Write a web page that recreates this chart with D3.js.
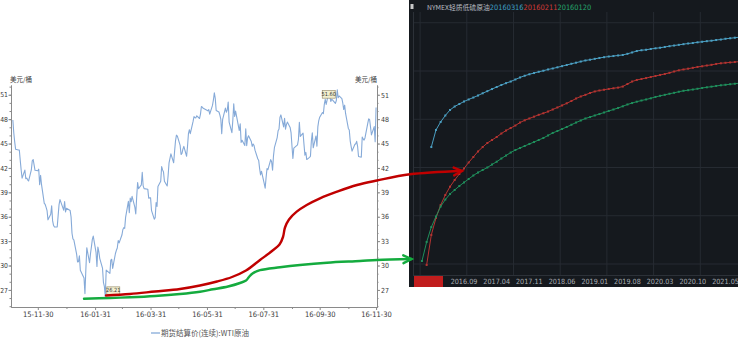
<!DOCTYPE html>
<html><head><meta charset="utf-8">
<script src="https://cdn.jsdelivr.net/npm/d3@7"></script>
<style>body{margin:0;background:#fff;overflow:hidden} svg{display:block}</style>
</head><body>
<svg id="c" width="738" height="342"></svg>
<script>
// ---------------- DATA ----------------
// Left chart: WTI continuous futures settlement price (USD/bbl)
const wti = [
["2015-11-03",47.90],["2015-11-04",46.32],["2015-11-05",45.20],["2015-11-06",44.29],["2015-11-09",44.21],["2015-11-10",44.21],["2015-11-11",42.93],["2015-11-12",41.75],["2015-11-13",40.74],["2015-11-16",41.74],["2015-11-17",40.67],["2015-11-18",40.75],["2015-11-19",40.54],["2015-11-20",40.39],["2015-11-23",41.75],["2015-11-24",42.87],["2015-11-25",43.04],["2015-11-27",41.71],["2015-11-30",41.65],
["2015-12-01",41.85],["2015-12-02",39.94],["2015-12-03",41.08],["2015-12-04",39.97],["2015-12-07",37.65],["2015-12-08",37.51],["2015-12-09",37.16],["2015-12-10",36.76],["2015-12-11",35.62],["2015-12-14",36.31],["2015-12-15",37.35],["2015-12-16",35.52],["2015-12-17",34.95],["2015-12-18",34.73],["2015-12-21",34.74],["2015-12-22",36.14],["2015-12-23",37.50],["2015-12-24",38.10],["2015-12-28",36.81],["2015-12-29",37.87],["2015-12-30",36.60],["2015-12-31",37.04],
["2016-01-04",36.76],["2016-01-05",35.97],["2016-01-06",33.97],["2016-01-07",33.27],["2016-01-08",33.16],["2016-01-11",31.41],["2016-01-12",30.44],["2016-01-13",30.48],["2016-01-14",31.20],["2016-01-15",29.42],["2016-01-19",28.46],["2016-01-20",26.55],["2016-01-21",29.53],["2016-01-22",32.19],["2016-01-25",30.34],["2016-01-26",31.45],["2016-01-27",32.30],["2016-01-28",33.22],["2016-01-29",33.62],
["2016-02-01",31.62],["2016-02-02",29.88],["2016-02-03",32.28],["2016-02-04",31.72],["2016-02-05",30.89],["2016-02-08",29.69],["2016-02-09",27.94],["2016-02-10",27.45],["2016-02-11",26.21],["2016-02-12",29.44],["2016-02-16",29.04],["2016-02-17",30.66],["2016-02-18",30.77],["2016-02-19",29.64],["2016-02-22",31.48],["2016-02-23",31.87],["2016-02-24",32.15],["2016-02-25",33.07],["2016-02-26",32.78],["2016-02-29",33.75],
["2016-03-01",34.40],["2016-03-02",34.66],["2016-03-03",34.57],["2016-03-04",35.92],["2016-03-07",37.90],["2016-03-08",36.50],["2016-03-09",38.29],["2016-03-10",37.84],["2016-03-11",38.50],["2016-03-14",37.18],["2016-03-15",36.34],["2016-03-16",38.46],["2016-03-17",40.20],["2016-03-18",39.44],["2016-03-21",39.91],["2016-03-22",41.45],["2016-03-23",39.79],["2016-03-24",39.46],["2016-03-28",39.39],["2016-03-29",38.28],["2016-03-30",38.32],["2016-03-31",38.34],
["2016-04-01",36.79],["2016-04-04",35.70],["2016-04-05",35.89],["2016-04-06",37.75],["2016-04-07",37.26],["2016-04-08",39.72],["2016-04-11",40.36],["2016-04-12",42.17],["2016-04-13",41.76],["2016-04-14",41.50],["2016-04-15",40.36],["2016-04-18",39.78],["2016-04-19",41.08],["2016-04-20",42.63],["2016-04-21",43.18],["2016-04-22",43.73],["2016-04-25",42.64],["2016-04-26",44.04],["2016-04-27",45.33],["2016-04-28",46.03],["2016-04-29",45.92],
["2016-05-02",44.78],["2016-05-03",43.65],["2016-05-04",43.78],["2016-05-05",44.32],["2016-05-06",44.66],["2016-05-09",43.44],["2016-05-10",44.66],["2016-05-11",46.23],["2016-05-12",46.70],["2016-05-13",46.21],["2016-05-16",47.72],["2016-05-17",48.31],["2016-05-18",48.19],["2016-05-19",48.16],["2016-05-20",48.41],["2016-05-23",48.08],["2016-05-24",48.62],["2016-05-25",49.56],["2016-05-26",49.48],["2016-05-27",49.33],["2016-05-31",49.10],
["2016-06-01",49.01],["2016-06-02",49.17],["2016-06-03",48.62],["2016-06-06",49.69],["2016-06-07",50.36],["2016-06-08",51.23],["2016-06-09",50.56],["2016-06-10",49.07],["2016-06-13",48.88],["2016-06-14",48.49],["2016-06-15",48.01],["2016-06-16",46.21],["2016-06-17",47.98],["2016-06-20",49.37],["2016-06-21",48.85],["2016-06-22",49.13],["2016-06-23",50.11],["2016-06-24",47.64],["2016-06-27",46.33],["2016-06-28",47.85],["2016-06-29",49.88],["2016-06-30",48.33],
["2016-07-01",48.99],["2016-07-05",46.60],["2016-07-06",47.43],["2016-07-07",45.14],["2016-07-08",45.41],["2016-07-11",44.76],["2016-07-12",46.80],["2016-07-13",44.75],["2016-07-14",45.68],["2016-07-15",45.95],["2016-07-18",45.24],["2016-07-19",44.65],["2016-07-20",44.94],["2016-07-21",44.75],["2016-07-22",44.19],["2016-07-25",43.13],["2016-07-26",42.92],["2016-07-27",41.92],["2016-07-28",41.14],["2016-07-29",41.60],
["2016-08-01",40.06],["2016-08-02",39.51],["2016-08-03",40.83],["2016-08-04",41.93],["2016-08-05",41.80],["2016-08-08",43.02],["2016-08-09",42.77],["2016-08-10",41.71],["2016-08-11",43.49],["2016-08-12",44.49],["2016-08-15",45.74],["2016-08-16",46.58],["2016-08-17",46.79],["2016-08-18",48.22],["2016-08-19",48.52],["2016-08-22",47.05],["2016-08-23",48.10],["2016-08-24",46.77],["2016-08-25",47.33],["2016-08-26",47.64],["2016-08-29",46.98],["2016-08-30",46.35],["2016-08-31",44.70],
["2016-09-01",43.16],["2016-09-02",44.44],["2016-09-06",44.83],["2016-09-07",45.50],["2016-09-08",47.62],["2016-09-09",45.88],["2016-09-12",46.29],["2016-09-13",44.90],["2016-09-14",43.58],["2016-09-15",43.91],["2016-09-16",43.03],["2016-09-19",43.30],["2016-09-20",43.44],["2016-09-21",45.34],["2016-09-22",46.32],["2016-09-23",44.48],["2016-09-26",45.93],["2016-09-27",44.67],["2016-09-28",47.05],["2016-09-29",47.83],["2016-09-30",48.24],
["2016-10-03",48.81],["2016-10-04",48.69],["2016-10-05",49.83],["2016-10-06",50.44],["2016-10-07",49.81],["2016-10-10",51.35],["2016-10-11",50.79],["2016-10-12",50.18],["2016-10-13",50.44],["2016-10-14",50.35],["2016-10-17",49.94],["2016-10-18",50.29],["2016-10-19",51.60],["2016-10-20",50.63],["2016-10-21",50.85],["2016-10-24",50.52],["2016-10-25",49.96],["2016-10-26",49.18],["2016-10-27",49.72],["2016-10-28",48.70],["2016-10-31",46.86],
["2016-11-01",46.67],["2016-11-02",45.34],["2016-11-03",44.66],["2016-11-04",44.07],["2016-11-07",44.89],["2016-11-08",44.98],["2016-11-09",45.27],["2016-11-10",44.66],["2016-11-11",43.41],["2016-11-14",43.32],["2016-11-15",45.81],["2016-11-16",45.57],["2016-11-17",45.42],["2016-11-18",45.69],["2016-11-21",47.49],["2016-11-22",48.03],["2016-11-23",47.96],["2016-11-25",46.06],["2016-11-28",47.08],["2016-11-29",45.23],["2016-11-30",49.44]
];
const leftXDomain = ["2015-11-01","2016-12-01"];
const leftYDomain = [24.9, 52.2];
const leftYTicks = [27,30,33,36,39,42,45,48,51];
const leftXTicks = ["2015-11-30","2016-01-31","2016-03-31","2016-05-31","2016-07-31","2016-09-30","2016-11-30"];
const leftXLabels = ["15-11-30","16-01-31","16-03-31","16-05-31","16-07-31","16-09-30","16-11-30"];
const leftXMinor = ["2015-12-31","2016-02-29","2016-04-30","2016-06-30","2016-08-31","2016-10-31"];
const unitLabel = "美元/桶";
const legendLabel = "期货结算价(连续):WTI原油";
const markedPoints = [["2016-02-11",26.21],["2016-10-19",51.60]];

// Right chart: NYMEX forward curves on three trade dates (one value per contract month)
const curveNames = ["20160316","20160211","20160120"];
const curveStartMonth = ["2016-02","2016-01","2015-12"];
const curve20160316 = [38.12,39.89,40.72,41.39,41.96,42.32,42.58,42.84,43.05,43.25,43.46,43.69,43.91,44.13,44.34,44.55,44.74,44.91,45.12,45.33,45.51,45.66,45.79,45.92,46.03,46.16,46.26,46.38,46.50,46.62,46.75,46.86,46.98,47.09,47.17,47.26,47.35,47.43,47.50,47.55,47.61,47.66,47.78,47.92,48.07,48.15,48.20,48.28,48.35,48.41,48.49,48.57,48.64,48.71,48.78,48.85,48.90,48.97,49.03,49.09,49.14,49.21,49.26,49.34,49.39,49.45,49.50];
const curve20160211 = [25.90,29.01,30.77,32.11,33.15,34.01,34.70,35.33,35.90,36.52,37.09,37.66,38.12,38.54,38.85,39.16,39.52,39.83,40.09,40.35,40.66,40.89,41.08,41.27,41.46,41.62,41.80,42.01,42.22,42.43,42.65,42.89,43.15,43.36,43.53,43.72,43.88,43.98,44.06,44.14,44.21,44.28,44.39,44.65,44.91,45.07,45.17,45.27,45.38,45.48,45.59,45.69,45.81,45.95,46.07,46.16,46.24,46.33,46.42,46.49,46.57,46.64,46.73,46.80,46.85,46.89,46.93,46.97];
const curve20160120 = [26.31,28.28,29.83,30.92,31.96,32.68,33.25,33.67,34.08,34.45,34.81,35.17,35.48,35.74,36.00,36.31,36.60,36.93,37.24,37.55,37.81,38.02,38.23,38.44,38.64,38.85,39.06,39.32,39.58,39.78,39.99,40.20,40.43,40.66,40.87,41.08,41.23,41.39,41.54,41.70,41.86,42.01,42.17,42.34,42.53,42.68,42.82,42.94,43.05,43.17,43.31,43.43,43.53,43.64,43.74,43.85,43.95,44.01,44.08,44.16,44.24,44.31,44.38,44.45,44.52,44.57,44.63,44.68,44.74];
const rightXLabels = ["2016.09","2017.04","2017.11","2018.06","2019.01","2019.08","2020.03","2020.10","2021.05"];
const rightYGrid = [26,31,36,41,46,51];
const rightTitle = "NYMEX轻质低硫原油";
const curveColors = ["#4b9fc2","#b53431","#1f8f5c"];
const titleColors = ["#3f9fc4","#d23b38","#25a56c"];

// ---------------- DRAW ----------------
const svg = d3.select("#c");
const P = d3.timeParse("%Y-%m-%d");
const numFont = "'Liberation Sans Narrow','Arial Narrow','DejaVu Sans Condensed',sans-serif";
const cjkFont = "'Noto Sans CJK SC','Noto Sans',sans-serif";

// Left chart
const xL = d3.scaleTime().domain(leftXDomain.map(P)).range([11, 377]);
const yL = d3.scaleLinear().domain(leftYDomain).range([307, 85]);
const axisCol = "#8a8a8a", txtCol = "#3a3a3a";

function styleAxis(g, fs){
  g.selectAll("path,line").attr("stroke", axisCol).attr("stroke-width", 1);
  g.selectAll("text").attr("fill", txtCol).style("font-family", numFont).style("font-size", fs+"px");
}
const minorY = d3.range(25, 53);
// left axis
const gl = svg.append("g").attr("transform","translate(11,0)");
gl.append("g").call(d3.axisLeft(yL).tickValues(minorY).tickSize(1.5).tickFormat("").tickSizeOuter(0)).call(g=>styleAxis(g,7));
gl.append("g").call(d3.axisLeft(yL).tickValues(leftYTicks).tickSize(2.5).tickPadding(0.5).tickFormat(d3.format("d")).tickSizeOuter(0)).call(g=>styleAxis(g,6.8));
// right axis
const gr = svg.append("g").attr("transform","translate(377,0)");
gr.append("g").call(d3.axisRight(yL).tickValues(minorY).tickSize(1.5).tickFormat("").tickSizeOuter(0)).call(g=>styleAxis(g,7));
gr.append("g").call(d3.axisRight(yL).tickValues(leftYTicks).tickSize(3).tickPadding(1).tickFormat(d3.format("d")).tickSizeOuter(0)).call(g=>styleAxis(g,7));
// bottom axis
const gb = svg.append("g").attr("transform","translate(0,307)");
gb.append("g").call(d3.axisBottom(xL).tickValues(leftXMinor.map(P)).tickSize(2).tickFormat("").tickSizeOuter(0)).call(g=>styleAxis(g,7));
gb.append("g").call(d3.axisBottom(xL).tickValues(leftXTicks.map(P)).tickSize(3).tickPadding(2)
   .tickFormat((d,i)=>leftXLabels[i]).tickSizeOuter(0)).call(g=>styleAxis(g,7.5));

// unit labels
svg.append("text").attr("x",10).attr("y",82).text(unitLabel)
  .style("font-family",cjkFont).style("font-size","6.5px").attr("fill",txtCol);
svg.append("text").attr("x",377).attr("y",82).attr("text-anchor","end").text(unitLabel)
  .style("font-family",cjkFont).style("font-size","6.5px").attr("fill",txtCol);

// WTI line
const wtiData = wti.map(d=>({date:P(d[0]), v:d[1]}));
svg.append("path").datum(wtiData)
  .attr("d", d3.line().x(d=>xL(d.date)).y(d=>yL(d.v)))
  .attr("fill","none").attr("stroke","#86aad8").attr("stroke-width",1.1).attr("stroke-linejoin","round");

// value labels
const labelOffsets = [[1.5,-9.5],[-15,0.7]];
markedPoints.forEach((m,i)=>{
  const px = xL(P(m[0])), py = yL(m[1]);
  const bx = px + labelOffsets[i][0], by = py + labelOffsets[i][1];
  svg.append("rect").attr("x",bx).attr("y",by).attr("width",13).attr("height",7.6)
    .attr("fill","#f3efcf").attr("stroke","#9c9272").attr("stroke-width",0.7);
  svg.append("text").attr("x",bx+6.5).attr("y",by+5.6).attr("text-anchor","middle")
    .text(m[1].toFixed(2)).style("font-family",numFont).style("font-size","5.6px").attr("fill","#333");
});

// legend
svg.append("line").attr("x1",151).attr("x2",160).attr("y1",333).attr("y2",333)
  .attr("stroke","#86aad8").attr("stroke-width",1.3);
svg.append("text").attr("x",161).attr("y",336).text(legendLabel)
  .style("font-family",cjkFont).style("font-size","7.5px").attr("fill","#555");

// Right chart
const RX0 = 409, RW = 738-409, RH = 287;
svg.append("rect").attr("x",RX0).attr("y",0).attr("width",RW).attr("height",RH).attr("fill","#15191e");
const mIdx = s => { const [y,m] = s.split(/[.-]/).map(Number); return y*12 + (m-1); };
const xR = d3.scaleLinear().domain([mIdx("2016.09"), mIdx("2021.05")]).range([464, 725.5]);
const yR = d3.scaleLinear().domain([26, 46]).range([264, 71]);

const gridCol = "#262b32";
// vertical grid every 10 contract months
const gridStart = mIdx("2016.09") - 9.4;
d3.range(0,7).map(k=>gridStart + k*10).forEach(m=>{
  svg.append("line").attr("x1",xR(m)).attr("x2",xR(m)).attr("y1",12).attr("y2",275)
    .attr("stroke",gridCol).attr("stroke-width",1);
});
rightYGrid.forEach(v=>{
  svg.append("line").attr("x1",413).attr("x2",738).attr("y1",yR(v)).attr("y2",yR(v))
    .attr("stroke",gridCol).attr("stroke-width",1);
});
// frame lines
svg.append("line").attr("x1",413.5).attr("x2",413.5).attr("y1",12).attr("y2",275).attr("stroke","#2c3138");
svg.append("line").attr("x1",413).attr("x2",738).attr("y1",275.5).attr("y2",275.5).attr("stroke","#2c3138");

// curves
const clip = svg.append("clipPath").attr("id","rc").append("rect").attr("x",414).attr("y",12).attr("width",324).attr("height",263);
const curves = [curve20160316, curve20160211, curve20160120];
const gc = svg.append("g").attr("clip-path","url(#rc)");
curves.forEach((arr,ci)=>{
  const s = mIdx(curveStartMonth[ci]);
  const pts = arr.map((v,i)=>({m:s+i, v}));
  gc.append("path").datum(pts).attr("d", d3.line().x(d=>xR(d.m)).y(d=>yR(d.v)))
    .attr("fill","none").attr("stroke",curveColors[ci]).attr("stroke-width",1);
  gc.selectAll(null).data(pts).enter().append("rect")
    .attr("x",d=>xR(d.m)-1).attr("y",d=>yR(d.v)-1).attr("width",2).attr("height",2)
    .attr("fill",curveColors[ci]);
});

// x labels
svg.append("rect").attr("x",414).attr("y",276).attr("width",29).attr("height",11).attr("fill","#c11d1d");
rightXLabels.forEach(l=>{
  svg.append("text").attr("x",xR(mIdx(l))).attr("y",284).attr("text-anchor","middle").text(l)
    .style("font-family",numFont).style("font-size","7.2px").attr("fill","#a9adb4");
});

// title
svg.append("rect").attr("x",410.5).attr("y",4).attr("width",3).attr("height",5).attr("fill","#c8c8c8");
const tt = svg.append("text").attr("x",427).attr("y",10).style("font-size","6.8px").style("font-family",cjkFont);
tt.append("tspan").text(rightTitle).attr("fill","#b9bcc1");
curveNames.forEach((n,i)=>tt.append("tspan").text(n).attr("fill",titleColors[i]).style("font-family",numFont).style("font-size","7.4px"));

// ---------------- ANNOTATION ARROWS ----------------
const redPath = [[106,295.5],[130,294],[155,291.5],[180,289],[200,285.5],[217,281.5],[232,277],[246,270.5],[260,260],[272,251],[279.5,244.5],[283,237],[285,227.5],[289,219.5],[296.7,211.7],[306.7,205],[320,198.3],[337,191.7],[357,185],[377,180.5],[410,174.3],[462,171]];
const greenPath = [[84,298.7],[110,298],[130,297.3],[155,296],[180,294],[200,291.7],[213,289.3],[228,286.5],[240,283],[246,280.5],[249,277],[252.5,273.5],[260,270.2],[280,267.3],[300,265],[327,262.7],[360,261],[377,260],[411.5,259]];
const arrowLine = d3.line().curve(d3.curveCatmullRom.alpha(0.5));
function arrow(pts, col){
  svg.append("path").attr("d",arrowLine(pts)).attr("fill","none").attr("stroke",col)
    .attr("stroke-width",2.4).attr("stroke-linecap","round");
  const [tx,ty] = pts[pts.length-1], [px,py] = pts[pts.length-2];
  const a = Math.atan2(ty-py, tx-px), L = 9, w = 0.45;
  const p1 = [tx - L*Math.cos(a-w), ty - L*Math.sin(a-w)];
  const p2 = [tx - L*Math.cos(a+w), ty - L*Math.sin(a+w)];
  svg.append("path").attr("d",`M${p1}L${tx},${ty}L${p2}`).attr("fill","none").attr("stroke",col)
    .attr("stroke-width",2.4).attr("stroke-linecap","round").attr("stroke-linejoin","miter");
}
arrow(greenPath, "#14ab3e");
arrow(redPath, "#c00000");
</script>
</body></html>
